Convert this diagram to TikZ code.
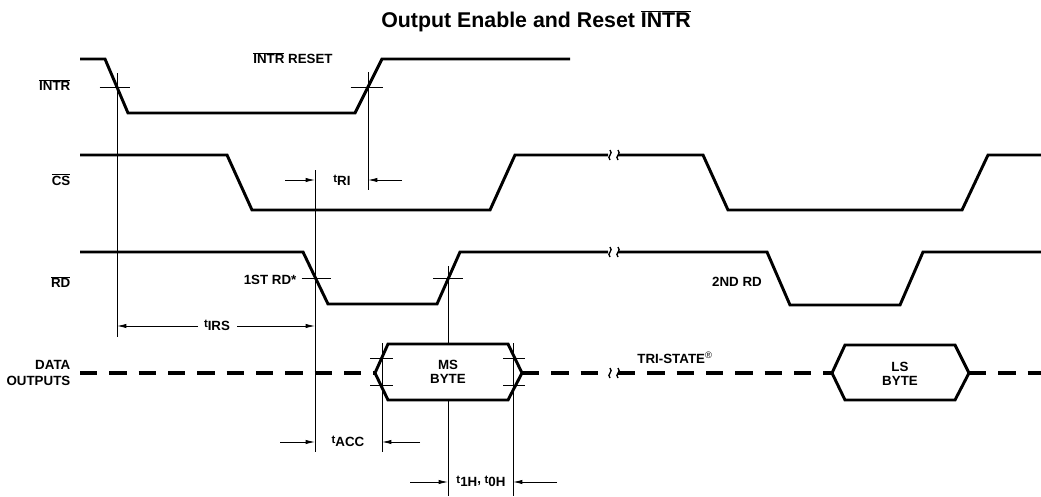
\documentclass[tikz,border=0pt]{standalone}
\usepackage{fontspec}
\setmainfont{Liberation Sans}
\usetikzlibrary{arrows.meta}
\usetikzlibrary{positioning}
\newcommand{\ovl}[1]{$\overline{\mbox{#1}}$}
\newcommand{\tm}[1]{{\fontsize{8.5}{9}\selectfont t}\raisebox{-0.45ex}{#1}}
\newcommand{\brk}[2]{%
    \draw[brkmark] (#1,#2-5) .. controls (#1+4,#2-1) and (#1-4,#2+1) .. (#1,#2+5);
    \draw[brkmark] (#1+8,#2-5) .. controls (#1+12,#2-1) and (#1+4,#2+1) .. (#1+8,#2+5);
}
\tikzset{
    wave/.style={line width=2.2pt, line join=miter},
    tristate/.style={line width=2.5pt, dash pattern=on 13pt off 9pt},
    guide/.style={line width=0.6pt},
    brkmark/.style={line width=1pt},
    timing/.style={guide, -{Latex[length=7pt,width=3.2pt]}},
    sig/.style={anchor=east, font=\fontsize{10}{12}\selectfont\bfseries},
    note/.style={font=\fontsize{10}{12}\selectfont\bfseries, inner sep=1pt},
    tval/.style={font=\fontsize{10}{12}\selectfont\bfseries, inner sep=1pt},
}

\begin{document}
\begin{tikzpicture}[x=0.75pt, y=-0.75pt]
    \useasboundingbox (0,0) rectangle (1041,496);
    % title and signal names
    \node[font=\fontsize{16}{18}\selectfont\bfseries] (title) at (536,21) {Output Enable and Reset \ovl{INTR}};
    \node[sig] (intr) at (75,85) {\ovl{INTR}};
    \node[sig] (cs) at (75,180) {\ovl{CS}};
    \node[sig] (rd) at (75,282) {\ovl{RD}};
    \node[sig, align=right] (data) at (75,373) {DATA\\OUTPUTS};
    % INTR
    \draw[wave] (80,59) -- (105,59) -- (128,113) -- (355,113) -- (382,59) -- (570,59);
    \coordinate (intrfall) at (117,87);
    \coordinate (intrrise) at (368,87);
    \node[note] (reset) at (293,58) {\ovl{INTR} RESET};
    % CS
    \draw[wave] (80,155) -- (227,155) -- (252,210) -- (490,210) -- (515,155) -- (608,155);
    \draw[wave] (618,155) -- (703,155) -- (728,210) -- (962,210) -- (988,155) -- (1041,155);
    \brk{610}{155}
    % RD
    \draw[wave] (80,252) -- (303,252) -- (328,304) -- (437,304) -- (460,252) -- (608,252);
    \draw[wave] (618,252) -- (767,252) -- (790,305) -- (900,305) -- (923,252) -- (1041,252);
    \brk{610}{252}
    \coordinate (rdfall) at (315,278);
    \coordinate (rdrise) at (448,278);
    \node[note, anchor=east] (first) at (298,280) {1ST RD*};
    \node[note] (second) at (737,282) {2ND RD};
    % data outputs
    \draw[tristate] (80,373) -- (375,373);
    \draw[wave] (375,373) -- (388,344) -- (508,344) -- (522,373) -- (508,400) -- (388,400) -- cycle;
    \node[note, align=center] (ms) at (448,372) {MS\\[-1pt]BYTE};
    \draw[tristate] (522,373) -- (608,373);
    \brk{610}{373}
    \draw[tristate] (618,373) -- (832,373);
    \draw[wave] (832,373) -- (845,345) -- (955,345) -- (969,373) -- (955,400) -- (845,400) -- cycle;
    \node[note, align=center] (ls) at (900,374) {LS\\[-1pt]BYTE};
    \draw[tristate] (969,373) -- (1041,373);
    \node[note] (tri) at (675,358) {TRI-STATE\textsuperscript{\normalfont ®}};
    % guide lines and crossings
    \draw[guide] (intrfall |- 0,73) -- (intrfall |- 0,337);
    \draw[guide] ([xshift=-13]intrfall) -- ([xshift=10]intrfall);
    \draw[guide] (intrrise |- 0,72) -- (intrrise |- 0,190);
    \draw[guide] ([xshift=-13]intrrise) -- ([xshift=11]intrrise);
    \draw[guide] (rdfall |- 0,170) -- (rdfall |- 0,452);
    \draw[guide] ([xshift=-10]rdfall) -- ([xshift=12]rdfall);
    \draw[guide] (rdrise |- 0,266) -- (rdrise |- 0,344);
    \draw[guide] (rdrise |- 0,400) -- (rdrise |- 0,496);
    \draw[guide] ([xshift=-11]rdrise) -- ([xshift=11]rdrise);
    \coordinate (msin) at (382,373);
    \coordinate (msout) at (513,373);
    \draw[guide] (msin |- 0,343) -- (msin |- 0,452);
    \draw[guide] (370,358) -- (393,358) (370,385) -- (393,385);
    \draw[guide] (msout |- 0,343) -- (msout |- 0,496);
    \draw[guide] (503,358) -- (525,358) (503,385) -- (525,385);
    % timing values
    \node[tval] (tri-t) at (342,180) {\tm{RI}};
    \draw[timing] (285,180) -- (rdfall |- tri-t);
    \draw[timing] (402,180) -- (intrrise |- tri-t);
    \node[tval] (tirs) at (217,325) {\tm{IRS}};
    \draw[timing] (198,326) -- (intrfall |- 0,326);
    \draw[timing] (237,326) -- (rdfall |- 0,326);
    \node[tval] (tacc) at (348,441) {\tm{ACC}};
    \draw[timing] (280,442) -- (rdfall |- 0,442);
    \draw[timing] (420,442) -- (msin |- 0,442);
    \node[tval] (thold) at (481,481) {\tm{1H}, \tm{0H}};
    \draw[timing] (410,482) -- (rdrise |- 0,482);
    \draw[timing] (557,482) -- (msout |- 0,482);
\end{tikzpicture}
\end{document}
